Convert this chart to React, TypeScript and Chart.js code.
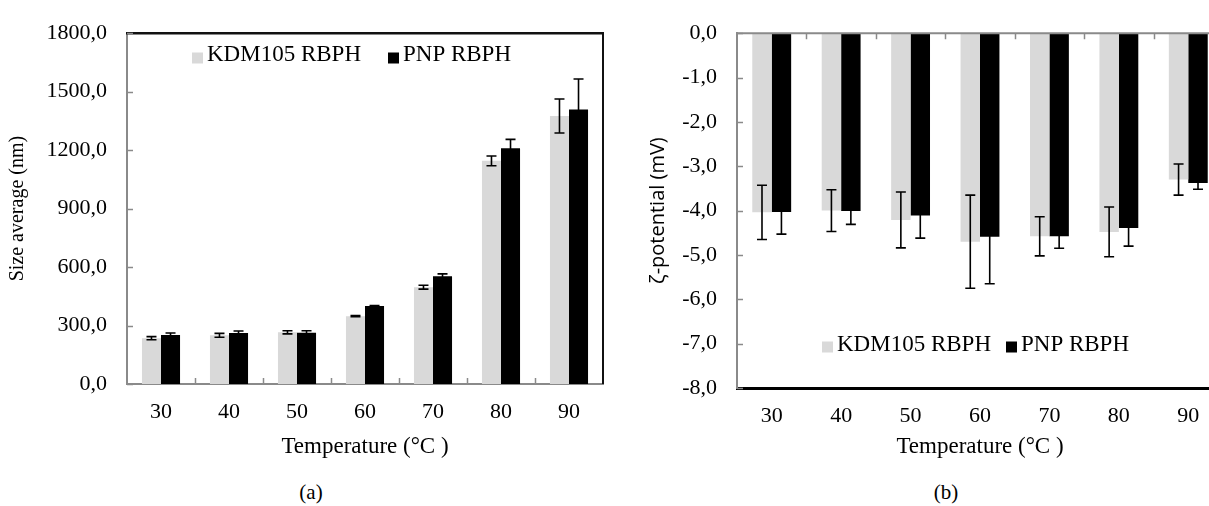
import React, { useEffect, useRef } from 'react';
import { Chart, registerables } from 'chart.js';

Chart.register(...registerables);

// ---------- data ----------
const categories = ['30', '40', '50', '60', '70', '80', '90'];
const seriesNames = ['KDM105 RBPH', 'PNP RBPH'];

const sizeKDM = [235, 250, 265, 348, 497, 1145, 1375];
const sizeKDMErr = [8, 10, 8, 3, 10, 25, 87];
const sizePNP = [252, 262, 263, 400, 553, 1210, 1408];
const sizePNPErr = [10, 10, 10, 3, 12, 45, 157];
const sizeTicks = [0, 300, 600, 900, 1200, 1500, 1800];

const zetaKDM = [-4.04, -4.0, -4.21, -4.7, -4.58, -4.48, -3.3];
const zetaKDMErr = [0.61, 0.47, 0.63, 1.05, 0.44, 0.56, 0.35];
const zetaPNP = [-4.03, -4.01, -4.11, -4.59, -4.58, -4.39, -3.38];
const zetaPNPErr = [0.5, 0.3, 0.51, 1.06, 0.27, 0.41, 0.14];
const zetaTicks = [0, -1, -2, -3, -4, -5, -6, -7, -8];

// ---------- styles ----------
const SERIF = '"Liberation Serif", "Times New Roman", serif';
const SANS = '"Open Sans", "Noto Sans", sans-serif';
const LIGHT = '#d9d9d9';
const DARK = '#000000';
const AXIS_GRAY = '#8a8a8a';

const fmt = (v: number) => Number(v).toFixed(1).replace('.', ',');

// ---------- plugins ----------
const errorBarsPlugin = {
  id: 'errorBars',
  afterDatasetsDraw(chart: any, _args: any, opts: any) {
    if (!opts || !opts.errors) return;
    const ctx = chart.ctx;
    const y = chart.scales.y;
    ctx.save();
    ctx.strokeStyle = opts.color || '#000';
    ctx.lineWidth = opts.lineWidth || 1.6;
    chart.data.datasets.forEach((ds: any, i: number) => {
      const meta = chart.getDatasetMeta(i);
      const errs = opts.errors[i];
      meta.data.forEach((el: any, j: number) => {
        const v = ds.data[j];
        const e = errs[j];
        const yt = y.getPixelForValue(v + e);
        const yb = y.getPixelForValue(v - e);
        const x = el.x;
        const c = (opts.capWidth || 10) / 2;
        ctx.beginPath();
        ctx.moveTo(x, yt);
        ctx.lineTo(x, yb);
        ctx.moveTo(x - c, yt);
        ctx.lineTo(x + c, yt);
        ctx.moveTo(x - c, yb);
        ctx.lineTo(x + c, yb);
        ctx.stroke();
      });
    });
    ctx.restore();
  },
};

const framePlugin = {
  id: 'frame',
  afterDraw(chart: any, _args: any, opts: any) {
    if (!opts || !opts.lines) return;
    const { ctx, chartArea: a } = chart;
    ctx.save();
    opts.lines.forEach((l: any) => {
      ctx.strokeStyle = l.color;
      ctx.lineWidth = l.width;
      ctx.beginPath();
      if (l.side === 'top') {
        ctx.moveTo(a.left - 1, a.top);
        ctx.lineTo(a.right + 1, a.top);
      } else if (l.side === 'right') {
        ctx.moveTo(a.right, a.top);
        ctx.lineTo(a.right, a.bottom);
      } else if (l.side === 'bottom') {
        ctx.moveTo(a.left - 1, a.bottom);
        ctx.lineTo(a.right + 1, a.bottom);
      }
      ctx.stroke();
    });
    ctx.restore();
  },
};

const inwardTicksPlugin = {
  id: 'inwardTicks',
  afterDraw(chart: any, _args: any, opts: any) {
    if (!opts || !opts.len) return;
    const { ctx, chartArea: a } = chart;
    const xs = chart.scales.x;
    const ys = chart.scales.y;
    ctx.save();
    ctx.strokeStyle = opts.color;
    ctx.lineWidth = opts.width;
    ctx.beginPath();
    ys.ticks.forEach((t: any) => {
      const py = Math.round(ys.getPixelForValue(t.value)) + 0.5;
      ctx.moveTo(a.left, py);
      ctx.lineTo(a.left + opts.len, py);
    });
    const n = chart.data.labels.length;
    for (let i = 1; i < n; i++) {
      const px = Math.round((xs.getPixelForValue(i - 1) + xs.getPixelForValue(i)) / 2) + 0.5;
      const baseY = opts.xSide === 'top' ? a.top : a.bottom;
      const dir = opts.xSide === 'top' ? 1 : -1;
      ctx.moveTo(px, baseY);
      ctx.lineTo(px, baseY + dir * opts.len);
    }
    ctx.stroke();
    ctx.restore();
  },
};

const boxLegendPlugin = {
  id: 'boxLegend',
  afterDraw(chart: any, _args: any, opts: any) {
    if (!opts || !opts.items) return;
    const ctx = chart.ctx;
    ctx.save();
    ctx.font = opts.font;
    ctx.textBaseline = 'middle';
    ctx.textAlign = 'left';
    chart.data.datasets.forEach((ds: any, i: number) => {
      const x = opts.items[i];
      ctx.fillStyle = ds.backgroundColor;
      ctx.fillRect(x, opts.y - opts.box / 2 + opts.boxDy, opts.box, opts.box);
      ctx.fillStyle = '#000';
      ctx.fillText(ds.label, x + opts.box + opts.gap, opts.y);
    });
    ctx.restore();
  },
};

const plugins = [errorBarsPlugin, framePlugin, inwardTicksPlugin, boxLegendPlugin];

// ---------- configs ----------
function sizeConfig(): any {
  const tickFont = { family: SERIF, size: 22 };
  return {
    type: 'bar',
    data: {
      labels: categories,
      datasets: [
        { label: seriesNames[0], data: sizeKDM, backgroundColor: LIGHT, categoryPercentage: 0.56, barPercentage: 1 },
        { label: seriesNames[1], data: sizePNP, backgroundColor: DARK, categoryPercentage: 0.56, barPercentage: 1 },
      ],
    },
    options: {
      animation: false,
      responsive: false,
      maintainAspectRatio: false,
      layout: { padding: { top: 23, right: 12, left: 0, bottom: 0 } },
      plugins: {
        legend: { display: false },
        tooltip: { enabled: false },
        errorBars: { errors: [sizeKDMErr, sizePNPErr], capWidth: 10, lineWidth: 1.6 },
        frame: { lines: [ { side: 'top', color: '#111', width: 2.5 }, { side: 'right', color: '#111', width: 2 } ] },
        inwardTicks: { len: 6, color: AXIS_GRAY, width: 1.5, xSide: 'bottom' },
        boxLegend: { items: [192, 388], y: 55, box: 11, boxDy: 3, gap: 4, font: `23px ${SERIF}` },
      },
      scales: {
        x: {
          grid: { display: false, drawTicks: false },
          border: { display: true, color: AXIS_GRAY, width: 2 },
          ticks: { font: tickFont, color: '#000', padding: 15 },
          title: { display: true, text: 'Temperature (°C )', font: { family: SERIF, size: 23 }, color: '#000', padding: { top: 0, bottom: 9 } },
          afterFit: (s: any) => { s.height = 86; },
        },
        y: {
          min: 0,
          max: 1800,
          afterBuildTicks: (s: any) => { s.ticks = sizeTicks.map((v) => ({ value: v })); },
          ticks: { font: tickFont, color: '#000', padding: 20, callback: (v: any) => fmt(v) },
          grid: { display: false, drawTicks: false },
          border: { display: true, color: AXIS_GRAY, width: 2 },
          title: { display: true, text: 'Size average (nm)', font: { family: SERIF, size: 20 }, color: '#000', padding: { top: 6, bottom: 0 } },
          afterFit: (s: any) => { s.width = 127; },
        },
      },
    },
    plugins,
  };
}

function zetaConfig(): any {
  const tickFont = { family: SERIF, size: 22 };
  return {
    type: 'bar',
    data: {
      labels: categories,
      datasets: [
        { label: seriesNames[0], data: zetaKDM, backgroundColor: LIGHT, categoryPercentage: 0.56, barPercentage: 1 },
        { label: seriesNames[1], data: zetaPNP, backgroundColor: DARK, categoryPercentage: 0.56, barPercentage: 1 },
      ],
    },
    options: {
      animation: false,
      responsive: false,
      maintainAspectRatio: false,
      layout: { padding: { top: 28, right: 12, left: 0, bottom: 0 } },
      plugins: {
        legend: { display: false },
        tooltip: { enabled: false },
        errorBars: { errors: [zetaKDMErr, zetaPNPErr], capWidth: 10, lineWidth: 1.6 },
        frame: { lines: [ { side: 'top', color: AXIS_GRAY, width: 2 } ] },
        inwardTicks: { len: 6, color: AXIS_GRAY, width: 1.5, xSide: 'top' },
        boxLegend: { items: [207, 391], y: 345, box: 11, boxDy: 2, gap: 4, font: `23px ${SERIF}` },
      },
      scales: {
        x: {
          grid: { display: false, drawTicks: false },
          border: { display: true, color: '#000', width: 3 },
          ticks: { font: tickFont, color: '#000', padding: 15 },
          title: { display: true, text: 'Temperature (°C )', font: { family: SERIF, size: 23 }, color: '#000', padding: { top: 0, bottom: 9 } },
          afterFit: (s: any) => { s.height = 82; },
        },
        y: {
          min: -8,
          max: 0,
          afterBuildTicks: (s: any) => { s.ticks = zetaTicks.map((v) => ({ value: v })); },
          ticks: { font: tickFont, color: '#000', padding: 20, callback: (v: any) => fmt(v) },
          grid: { display: false, drawTicks: false },
          border: { display: true, color: AXIS_GRAY, width: 2 },
          title: { display: true, text: 'ζ-potential (mV)', font: { family: SANS, size: 20 }, color: '#000', padding: { top: 31, bottom: 0 } },
          afterFit: (s: any) => { s.width = 122; },
        },
      },
    },
    plugins,
  };
}

function Panel(props: { config: () => any; left: number; width: number; height: number }) {
  const ref = useRef<HTMLCanvasElement | null>(null);
  useEffect(() => {
    if (!ref.current) return;
    const chart = new Chart(ref.current, props.config());
    return () => chart.destroy();
  }, []);
  return (
    <canvas
      ref={ref}
      width={props.width}
      height={props.height}
      style={{ position: 'absolute', left: props.left, top: 0, width: props.width, height: props.height }}
    />
  );
}

const captionStyle: React.CSSProperties = {
  position: 'absolute',
  top: 492,
  transform: 'translate(-50%, -50%)',
  fontFamily: SERIF,
  fontSize: 21,
  color: '#000',
  whiteSpace: 'nowrap',
  lineHeight: '24px',
};

export default function App() {
  return (
    <div style={{ position: 'fixed', left: 0, top: 0, width: 1209, height: 506, overflow: 'hidden', background: '#fff' }}>
      <Panel config={sizeConfig} left={0} width={615} height={470} />
      <Panel config={zetaConfig} left={615} width={620} height={470} />
      <div style={{ ...captionStyle, left: 311 }}>(a)</div>
      <div style={{ ...captionStyle, left: 946 }}>(b)</div>
    </div>
  );
}
